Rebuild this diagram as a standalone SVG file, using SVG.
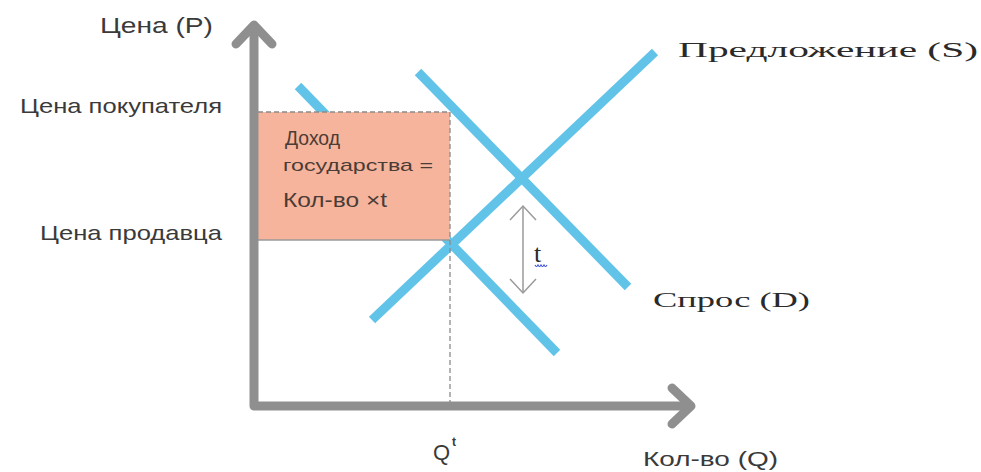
<svg xmlns="http://www.w3.org/2000/svg" width="981" height="472" viewBox="0 0 981 472">
  <style>
    .sans { font-family: "Liberation Sans", Arial, sans-serif; fill: #3a3a3a; }
    .boxtext { font-family: "Liberation Sans", Arial, sans-serif; fill: #4a3c36; }
    .serif { font-family: "Liberation Serif", "Times New Roman", serif; fill: #2a2a2a; }
    .axis { stroke: #8f8f8f; stroke-width: 9; fill: none; stroke-linecap: round; stroke-linejoin: round; }
    .curve { stroke: #62c3e9; stroke-width: 9; fill: none; }
    .guide { stroke: #8a8a8a; stroke-width: 1.3; fill: none; stroke-dasharray: 5 3; }
    .edge { stroke: #9a9a9a; stroke-width: 1.3; fill: none; }
    .tick { stroke: #9a9a9a; stroke-width: 1.5; fill: none; }
  </style>

  <rect width="981" height="472" fill="#ffffff"/>

  <!-- demand and supply curves -->
  <g id="connectors">
    <line id="demand-low" class="curve" x1="298" y1="86" x2="557" y2="353"/>
    <line id="demand" class="curve" x1="418" y1="72" x2="628" y2="287"/>
    <line id="supply" class="curve" x1="372" y1="320" x2="655" y2="52"/>
  </g>

  <!-- tax revenue box -->
  <g id="revenue-box">
    <rect x="258" y="112" width="192" height="128" fill="#f6b49c"/>
    <line class="guide" x1="258" y1="112" x2="450" y2="112"/>
    <line class="edge" x1="258" y1="240" x2="450" y2="240"/>
    <text class="boxtext" x="285" y="145" font-size="21" textLength="55" lengthAdjust="spacingAndGlyphs">Доход</text>
    <text class="boxtext" x="283" y="171" font-size="17" textLength="150" lengthAdjust="spacingAndGlyphs">государства =</text>
    <text class="boxtext" x="283" y="207" font-size="20" textLength="104" lengthAdjust="spacingAndGlyphs">Кол-во ×t</text>
  </g>

  <!-- quantity guide -->
  <g id="quantity-guide">
    <line class="guide" x1="450" y1="112" x2="450" y2="405"/>
  </g>

  <!-- axes -->
  <g id="axes">
    <polyline class="axis" points="254,28 254,406 690,406"/>
    <polyline class="axis" points="236,44 254,25 272,44"/>
    <polyline class="axis" points="672,388 691,406 672,424"/>
  </g>

  <!-- tax wedge -->
  <g id="tax-wedge">
    <line class="tick" x1="523" y1="206" x2="523" y2="293"/>
    <polyline class="tick" points="510,220 523,206 536,220"/>
    <polyline class="tick" points="510,279 523,293 536,279"/>
    <text class="serif" x="534" y="262" font-size="26">t</text>
    <path d="M535,265 q1.5,3 3,0 q1.5,3 3,0 q1.5,3 3,0 q1.5,3 3,0" fill="none" stroke="#3b4fd8" stroke-width="1.2"/>
  </g>

  <!-- axis and price labels -->
  <g id="labels">
    <text class="sans" x="100" y="33" font-size="22" textLength="113" lengthAdjust="spacingAndGlyphs">Цена (P)</text>
    <text class="sans" x="20" y="113" font-size="21" textLength="202" lengthAdjust="spacingAndGlyphs">Цена  покупателя</text>
    <text class="sans" x="40" y="240" font-size="21" textLength="182" lengthAdjust="spacingAndGlyphs">Цена продавца</text>
    <text class="sans" x="643" y="466" font-size="20" textLength="135" lengthAdjust="spacingAndGlyphs">Кол-во (Q)</text>
    <text class="sans" x="433" y="460" font-size="22">Q</text>
    <text class="sans" x="452" y="446" font-size="12" font-weight="bold">t</text>
  </g>

  <!-- curve names -->
  <g id="curve-labels">
    <text class="serif" x="678" y="57" font-size="22" textLength="300" lengthAdjust="spacingAndGlyphs">Предложение (S)</text>
    <text class="serif" x="653" y="307" font-size="22" textLength="157" lengthAdjust="spacingAndGlyphs">Спрос (D)</text>
  </g>
</svg>
